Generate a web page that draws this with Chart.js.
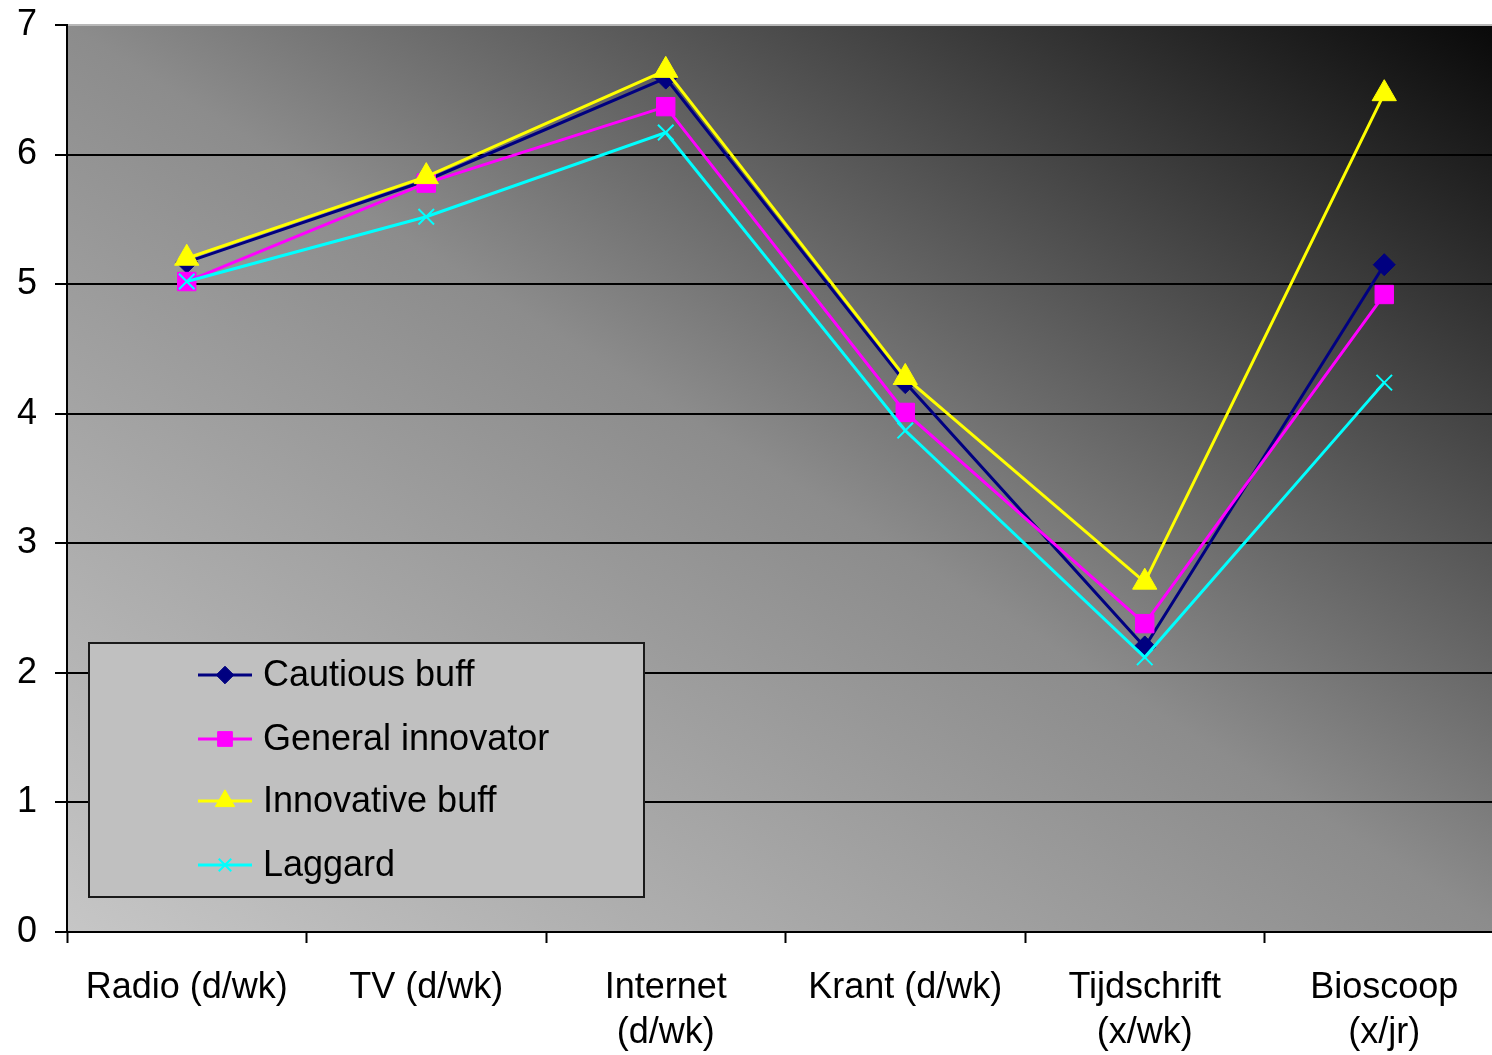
<!DOCTYPE html>
<html>
<head>
<meta charset="utf-8">
<script src="https://cdn.jsdelivr.net/npm/chart.js@4"></script>
<style>
  html, body { margin: 0; padding: 0; background: #fff; overflow: hidden; }
  #wrap { width: 1519px; height: 1055px; }
</style>
</head>
<body>
<div id="wrap"><canvas id="myChart" width="1519" height="1055" style="width:1519px;height:1055px"></canvas></div>
<script>
const categories = [
    "Radio (d/wk)",
    "TV (d/wk)",
    ["Internet", "(d/wk)"],
    "Krant (d/wk)",
    ["Tijdschrift", "(x/wk)"],
    ["Bioscoop", "(x/jr)"],
];

const seriesNames = ["Cautious buff", "General innovator", "Innovative buff", "Laggard"];

const cautiousBuff     = [5.17, 5.80, 6.59, 4.24, 2.20, 5.15];
const generalInnovator = [5.02, 5.78, 6.37, 4.01, 2.38, 4.92];
const innovativeBuff   = [5.20, 5.83, 6.65, 4.28, 2.70, 6.47];
const laggard          = [5.02, 5.52, 6.17, 3.87, 2.12, 4.24];

const yTicks = [0, 1, 2, 3, 4, 5, 6, 7];

const FONT = "'Liberation Sans', Arial, sans-serif";

// plot area gradient (light bottom-left -> black top-right)
const plotBg = {
    id: "plotBg",
    beforeDraw(chart) {
        const a = chart.chartArea;
        const c = chart.ctx;
        c.save();
        c.translate(a.left, a.top);
        c.scale(a.right - a.left, a.bottom - a.top);
        const g = c.createLinearGradient(0, 1, 1, 0);
        g.addColorStop(0, "#c6c6c6");
        g.addColorStop(0.5, "#8c8c8c");
        g.addColorStop(1, "#080808");
        c.fillStyle = g;
        c.fillRect(0, 0, 1, 1);
        c.restore();
    }
};

// legend box inside the plot, like the original
const boxLegend = {
    id: "boxLegend",
    afterDraw(chart) {
        const c = chart.ctx;
        c.save();
        c.fillStyle = "#c0c0c0";
        c.fillRect(88, 642, 557, 256);
        c.strokeStyle = "#1a1a1a";
        c.lineWidth = 2;
        c.strokeRect(89, 643, 555, 254);
        const rows = [675, 739, 801, 865];
        chart.data.datasets.forEach((ds, i) => {
            const y = rows[i];
            c.strokeStyle = ds.borderColor;
            c.lineWidth = 3;
            c.beginPath();
            c.moveTo(198, y);
            c.lineTo(252, y);
            c.stroke();
            const opts = {
                pointStyle: ds.pointStyle,
                radius: ds.pointRadius * 0.8,
                borderWidth: ds.pointBorderWidth,
                rotation: 0
            };
            c.fillStyle = ds.pointBackgroundColor;
            c.strokeStyle = ds.pointBorderColor;
            c.lineWidth = ds.pointBorderWidth;
            Chart.helpers.drawPoint(c, opts, 225, y);
            c.fillStyle = "#000";
            c.font = "36px " + FONT;
            c.textBaseline = "middle";
            c.textAlign = "left";
            c.fillText(ds.label, 263, y + 1);
        });
        c.restore();
    }
};

const data = {
    labels: categories,
    datasets: [
        {
            label: seriesNames[0],
            data: cautiousBuff,
            borderColor: "#000080",
            backgroundColor: "#000080",
            pointBackgroundColor: "#000080",
            pointBorderColor: "#000080",
            pointStyle: "rectRot",
            pointRadius: 11,
            pointBorderWidth: 1,
            borderWidth: 3,
            order: 3,
        },
        {
            label: seriesNames[1],
            data: generalInnovator,
            borderColor: "#ff00ff",
            backgroundColor: "#ff00ff",
            pointBackgroundColor: "#ff00ff",
            pointBorderColor: "#ff00ff",
            pointStyle: "rect",
            pointRadius: 13,
            pointBorderWidth: 1,
            borderWidth: 3,
            order: 2,
        },
        {
            label: seriesNames[2],
            data: innovativeBuff,
            borderColor: "#ffff00",
            backgroundColor: "#ffff00",
            pointBackgroundColor: "#ffff00",
            pointBorderColor: "#ffff00",
            pointStyle: "triangle",
            pointRadius: 14,
            pointBorderWidth: 1,
            borderWidth: 3,
            order: 1,
        },
        {
            label: seriesNames[3],
            data: laggard,
            borderColor: "#00ffff",
            backgroundColor: "#00ffff",
            pointBackgroundColor: "#00ffff",
            pointBorderColor: "#00ffff",
            pointStyle: "crossRot",
            pointRadius: 11,
            pointBorderWidth: 2,
            borderWidth: 3,
            order: 0,
        },
    ],
};

const config = {
    type: "line",
    data: data,
    plugins: [plotBg, boxLegend],
    options: {
        responsive: false,
        maintainAspectRatio: false,
        animation: false,
        layout: { padding: { top: 25, left: 0, right: 0, bottom: 0 } },
        plugins: {
            legend: { display: false },
            tooltip: { enabled: false },
        },
        elements: { line: { tension: 0 } },
        scales: {
            x: {
                offset: true,
                afterFit: (s) => { s.height = 123; s.paddingLeft = 0; s.paddingRight = 0; },
                grid: {
                    offset: true,
                    drawOnChartArea: false,
                    drawTicks: true,
                    tickLength: 11,
                    tickColor: "#000",
                    tickWidth: 2,
                },
                border: { color: "#000", width: 2 },
                ticks: {
                    color: "#000",
                    padding: 23,
                    maxRotation: 0,
                    autoSkip: false,
                    font: { family: FONT, size: 36, lineHeight: 1.25 },
                },
            },
            y: {
                min: 0,
                max: 7,
                afterFit: (s) => { s.width = 67; s.paddingTop = 0; s.paddingBottom = 0; },
                afterBuildTicks: (s) => { s.ticks = yTicks.map(v => ({ value: v })); },
                grid: {
                    color: (ctx) => ctx.tick && ctx.tick.value === 7 ? "#b8b8b8" : "#000",
                    lineWidth: 2,
                    tickLength: 12,
                    tickColor: "#000",
                    tickWidth: 2,
                },
                border: { color: "#000", width: 2 },
                ticks: {
                    color: "#000",
                    padding: 18,
                    font: { family: FONT, size: 36 },
                },
            },
        },
    },
};

const myChart = new Chart(document.getElementById("myChart").getContext("2d"), config);
</script>
</body>
</html>
